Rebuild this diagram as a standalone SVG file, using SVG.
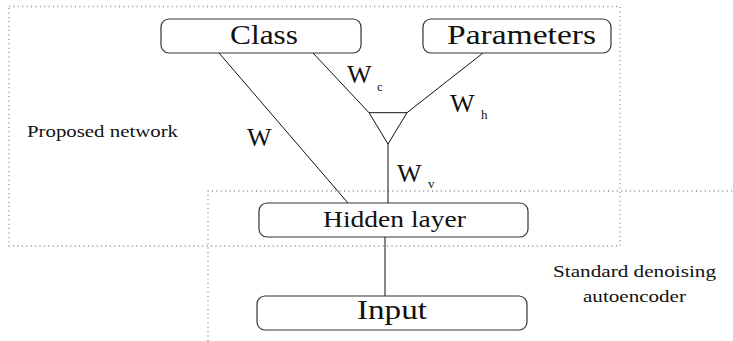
<svg xmlns="http://www.w3.org/2000/svg" width="733" height="341" viewBox="0 0 733 341">
<style>
.node{fill:#fff;stroke:#333;stroke-width:1.2}
.t{fill:#111}
.edge{stroke:#111;stroke-width:1;fill:none}
.dot{stroke:#888;stroke-width:1.3;fill:none;stroke-dasharray:1 3.4}
</style>
<rect width="733" height="341" fill="#fff"/>
<g font-family="Liberation Serif, DejaVu Serif, serif">
<g id="regions">
<path class="dot" d="M9,6.5 H620 V246 H9 Z"/>
<path class="dot" d="M208,341 V191 H733"/>
<text class="t" x="27" y="137" font-size="17" textLength="151" lengthAdjust="spacingAndGlyphs">Proposed network</text>
<text class="t" x="553" y="277" font-size="17" textLength="163" lengthAdjust="spacingAndGlyphs">Standard denoising</text>
<text class="t" x="583" y="302" font-size="17" textLength="103" lengthAdjust="spacingAndGlyphs">autoencoder</text>
</g>
<g id="connectors">
<line class="edge" x1="219" y1="53" x2="348" y2="203"/>
<line class="edge" x1="313" y1="53" x2="369" y2="112.7"/>
<line class="edge" x1="483" y1="53" x2="407" y2="112.7"/>
<line class="edge" x1="388" y1="144" x2="388" y2="203"/>
<line class="edge" x1="385" y1="237" x2="385" y2="296"/>
<text class="t" x="247" y="146" font-size="26">W</text>
<text class="t" x="347" y="83" font-size="26">W</text>
<text class="t" x="377" y="91" font-size="13">c</text>
<text class="t" x="450" y="112" font-size="26">W</text>
<text class="t" x="481" y="119" font-size="13">h</text>
<text class="t" x="397" y="182" font-size="26">W</text>
<text class="t" x="428" y="188" font-size="13">v</text>
</g>
<g id="merge">
<polygon class="edge" points="369,112.7 407,112.7 388,144"/>
</g>
<g id="class">
<rect class="node" x="161" y="19" width="200" height="34" rx="8"/>
<text class="t" x="230" y="44.3" font-size="28" textLength="68" lengthAdjust="spacingAndGlyphs">Class</text>
</g>
<g id="parameters">
<rect class="node" x="423" y="19" width="188" height="34" rx="8"/>
<text class="t" x="447" y="44.3" font-size="28" textLength="149" lengthAdjust="spacingAndGlyphs">Parameters</text>
</g>
<g id="hidden">
<rect class="node" x="259" y="203" width="269" height="34" rx="8"/>
<text class="t" x="323" y="227.3" font-size="23" textLength="143" lengthAdjust="spacingAndGlyphs">Hidden layer</text>
</g>
<g id="input">
<rect class="node" x="257" y="296" width="270" height="34" rx="8"/>
<text class="t" x="357" y="319" font-size="28" textLength="70" lengthAdjust="spacingAndGlyphs">Input</text>
</g>
</g>
</svg>
